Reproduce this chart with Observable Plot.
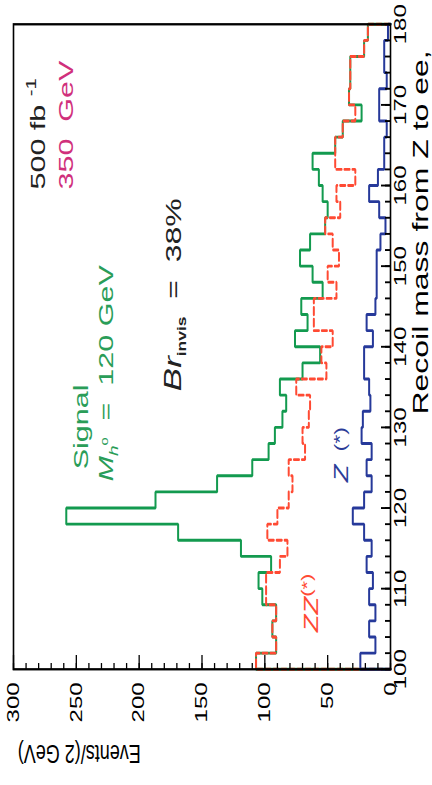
<!DOCTYPE html>
<html><head><meta charset="utf-8">
<script src="https://cdn.jsdelivr.net/npm/d3@7"></script>
<script src="https://cdn.jsdelivr.net/npm/@observablehq/plot@0.6"></script>
<style>
html,body{margin:0;padding:0;background:#fff;width:432px;height:785px;overflow:hidden;}
#wrap{position:absolute;left:0;top:785px;width:540px;height:432px;transform-origin:0 0;transform:rotate(-90deg) scaleX(1.4537);}
</style></head><body><div id="wrap"></div>
<script>
// ---- data ----
const binStart = [100,102,104,106,108,110,112,114,116,118,120,122,124,126,128,130,132,134,136,138,
                  140,142,144,146,148,150,152,154,156,158,160,162,164,166,168,170,172,174,176,178];
const binWidth = 2;
// signal + background (green)
const signalTotal = [107,91,94,91,102,105,95,119,169,258,187,138,110,97,92,86,83,88,70,56,
                     76,66,71,54,62,72,64,52,50,54,57,62,44,38,23,33,32,32,21,18];
// ZZ(*) background (red dashed)
const zzBackground = [107,91,94,91,99,99,88,82,98,90,81,78,81,68,70,65,64,75,51,55,
                      46,61,61,43,50,41,46,52,40,43,28,44,44,38,28,33,32,32,21,18];
// Z(*) background (blue)
const zBackground = [24,12,17,12,17,14,19,15,21,30,21,15,19,15,23,22,16,17,21,21,
                     14,19,12,11,11,11,8,4,9,17,10,5,5,3,9,9,3,5,5,2];
const massTicks = [100,110,120,130,140,150,160,170,180];
const massMinorTicks = [100,102,104,106,108,110,112,114,116,118,120,122,124,126,128,130,132,134,136,138,140,
                        142,144,146,148,150,152,154,156,158,160,162,164,166,168,170,172,174,176,178,180];
const eventTicks = [0,50,100,150,200,250,300];
const eventMinorTicks = [0,10,20,30,40,50,60,70,80,90,100,110,120,130,140,150,160,170,180,190,200,
                         210,220,230,240,250,260,270,280,290,300];
const massDomain = [100,180];
const eventDomain = [0,300];
const xLabel = "Recoil mass from Z to ee,";
const yLabel = "Events/(2 GeV)";
const noteTexts = ["500 fb-1","350 GeV","Signal","Mho = 120 GeV","Brinvis = 38%","Z (*)","ZZ(*)"];

// ---- layout / style (positions in data units) ----
const notePlace = [
  {m:159.5, e:274.7, fill:"#222", size:21},
  {m:159.5, e:253.0, fill:"#d0307c", size:21},
  {m:124.8, e:241.0, fill:"#2a9d58", size:21},
  {m:123.3, e:220.6, fill:"#2a9d58", size:21},
  {m:134.5, e:167.0, fill:"#222", size:22},
  {m:123.2, e:34.2, fill:"#2b3c98", size:20},
  {m:104.6, e:57.3, fill:"#ff4a33", size:20}
];
const S = "\u00a0";
const richSpec = {
  "500 fb-1": [["500" + S + "fb" + S,{}],["-1",{"font-size":14,dy:-9}]],
  "350 GeV": [["350" + S + S + "GeV",{}]],
  "Mho = 120 GeV": [["M",{"font-style":"italic"}],["h",{"font-style":"italic","font-size":13,dy:5}],["o",{"font-size":10,dy:-10}],[S + S + "=" + S + S + "120 GeV",{dy:5}]],
  "Brinvis = 38%": [["Br",{"font-style":"italic","font-size":24}],["invis",{"font-size":12,"font-weight":"bold",dy:5}],[S + S + "=" + S + S + "38%",{dy:-5}]],
  "Z (*)": [["Z",{"font-style":"italic"}],[S + S + "(*)",{"font-size":16,dy:-2}]],
  "ZZ(*)": [["ZZ",{"font-style":"italic"}],["(*)",{"font-size":15,dy:-6}]]
};

function outline(vals){
  const end = binStart[binStart.length-1] + binWidth;
  const pts = [{m: binStart[0], v: 0}];
  binStart.forEach((m,i) => pts.push({m, v: vals[i]}));
  pts.push({m: end, v: vals[vals.length-1]});
  pts.push({m: end, v: 0});
  return pts;
}

const font = "'Liberation Sans', Arial, Helvetica, sans-serif";
const chart = Plot.plot({
  width: 540, height: 432,
  marginLeft: 79.1, marginRight: 17.2, marginTop: 13, marginBottom: 42,
  x: {domain: massDomain},
  y: {domain: eventDomain},
  style: {fontFamily: font, background: "white", color: "black", overflow: "visible"},
  marks: [
    Plot.line(outline(signalTotal), {x:"m", y:"v", curve:"step-after", stroke:"#139a4f", strokeWidth:2, strokeLinejoin:"miter"}),
    Plot.line(outline(zzBackground), {x:"m", y:"v", curve:"step-after", stroke:"#ff4a33", strokeWidth:2, strokeDasharray:"5,3", strokeLinejoin:"miter"}),
    Plot.line(outline(zBackground), {x:"m", y:"v", curve:"step-after", stroke:"#26399a", strokeWidth:2, strokeLinejoin:"miter"}),
    Plot.axisX({ticks: massMinorTicks, tickSize: -5, fill: "none", label: null, strokeWidth: 1.3}),
    Plot.axisX({ticks: massTicks, tickSize: -9, tickPadding: 13, fontSize: 16.5, label: null, strokeWidth: 1.3}),
    Plot.axisY({ticks: eventMinorTicks, tickSize: -4.8, fill: "none", label: null, strokeWidth: 1.3}),
    Plot.axisY({ticks: eventTicks, tickSize: -10.3, tickPadding: 19.3, fontSize: 16.5, label: null, strokeWidth: 1.3}),
    Plot.frame({stroke: "black", strokeWidth: 1.6}),
    Plot.text([xLabel], {x: () => 131.6, frameAnchor: "bottom", dy: 37, text: d => d, textAnchor: "start", lineAnchor: "bottom", fontSize: 22}),
    Plot.text([yLabel], {y: () => 247.7, frameAnchor: "left", dx: -52.3, text: d => d, rotate: -90, textAnchor: "middle", lineAnchor: "bottom", fontSize: 18}),
    ...noteTexts.map((t,i) => Plot.text([t], {x: () => notePlace[i].m, y: () => notePlace[i].e, text: d => d,
       fill: notePlace[i].fill, fontSize: notePlace[i].size, textAnchor: "start", lineAnchor: "bottom"}))
  ]
});
document.getElementById("wrap").appendChild(chart);
d3.select(chart).selectAll("text").each(function(){
  const spec = richSpec[this.textContent];
  if (!spec) return;
  this.textContent = "";
  for (const [t, attrs] of spec) {
    const ts = d3.select(this).append("tspan").text(t);
    for (const k in attrs) ts.attr(k, attrs[k]);
  }
});
</script></body></html>
